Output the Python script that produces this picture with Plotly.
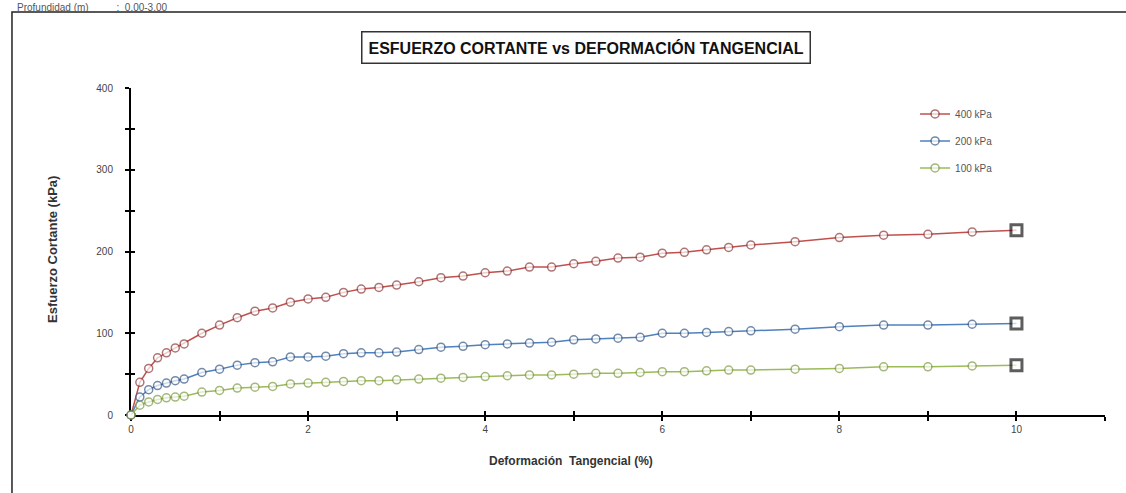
import plotly.graph_objects as go

# Shear strain (%) at each reading
deformacion = [0, 0.1, 0.2, 0.3, 0.4, 0.5, 0.6, 0.8, 1.0, 1.2, 1.4, 1.6, 1.8, 2.0,
               2.2, 2.4, 2.6, 2.8, 3.0, 3.25, 3.5, 3.75, 4.0, 4.25, 4.5, 4.75,
               5.0, 5.25, 5.5, 5.75, 6.0, 6.25, 6.5, 6.75, 7.0, 7.5, 8.0, 8.5,
               9.0, 9.5, 10.0]

# Shear stress (kPa) for each normal load
esfuerzo_400 = [0, 40, 57, 70, 76, 82, 87, 100, 110, 119, 127, 131, 138, 142,
                144, 150, 154, 156, 159, 163, 168, 170, 174, 176, 181, 181,
                185, 188, 192, 193, 198, 199, 202, 205, 208, 212, 217, 220,
                221, 224, 226]
esfuerzo_200 = [0, 22, 31, 36, 39, 42, 44, 52, 56, 61, 64, 65, 71, 71,
                72, 75, 76, 76, 77, 80, 83, 84, 86, 87, 88, 89,
                92, 93, 94, 95, 100, 100, 101, 102, 103, 105, 108, 110,
                110, 111, 112]
esfuerzo_100 = [0, 12, 16, 19, 21, 22, 23, 28, 30, 33, 34, 35, 38, 39,
                40, 41, 42, 42, 43, 44, 45, 46, 47, 48, 49, 49,
                50, 51, 51, 52, 53, 53, 54, 55, 55, 56, 57, 59,
                59, 60, 61]

series = [
    ("400 kPa", esfuerzo_400, "#c0504d", "#8e3b3d"),
    ("200 kPa", esfuerzo_200, "#4f81bd", "#3b5a86"),
    ("100 kPa", esfuerzo_100, "#9bbb59", "#7f9c44"),
]

fig = go.Figure()
n = len(deformacion)
for i, (name, vals, col, edge) in enumerate(series):
    symbols = ["circle"] * (n - 1) + ["square"]
    sizes = [8] * (n - 1) + [11]
    edges = [edge] * (n - 1) + ["#1a1a1a"]
    widths = [1.5] * (n - 1) + [3]
    fig.add_trace(go.Scatter(
        x=deformacion, y=vals, name=name, mode="lines+markers",
        legendgroup=name,
        line=dict(color=col, width=1.5),
        marker=dict(symbol=symbols, size=sizes, color="white",
                    line=dict(color=edges, width=widths)),
        cliponaxis=False,
    ))

axis_font = dict(family="Liberation Sans Narrow, Arial", size=10, color="#444")

fig.update_layout(
    width=1126, height=493,
    margin=dict(l=131, r=21, t=88, b=78),
    plot_bgcolor="white", paper_bgcolor="white",
    showlegend=True,
    legend=dict(x=0.805, y=0.965, xanchor="left", yanchor="top",
                font=dict(family="Liberation Sans Narrow, Arial", size=10, color="#555"),
                tracegroupgap=8, itemwidth=30, bgcolor="rgba(0,0,0,0)"),
    xaxis=dict(range=[0, 11], tickvals=[0, 2, 4, 6, 8, 10], showgrid=False,
               zeroline=False, showline=True, linecolor="black", linewidth=2,
               ticks="outside", ticklen=4, tickwidth=2, tickcolor="black",
               minor=dict(dtick=1, tick0=0, ticks="outside", ticklen=4,
                          tickwidth=2, tickcolor="black"),
               tickfont=axis_font, layer="below traces"),
    yaxis=dict(range=[0, 400], tickvals=[0, 100, 200, 300, 400], showgrid=False,
               zeroline=False, showline=True, linecolor="black", linewidth=2,
               ticks="outside", ticklen=4, tickwidth=2, tickcolor="black",
               minor=dict(dtick=50, tick0=0, ticks="outside", ticklen=4,
                          tickwidth=2, tickcolor="black"),
               tickfont=axis_font, ticklabelstandoff=10, layer="below traces"),
    # second copy of each axis draws the inner half of the crossing ticks
    xaxis2=dict(overlaying="x", matches="x", range=[0, 11], showgrid=False,
                zeroline=False, showticklabels=False, side="bottom",
                tickvals=list(range(0, 12)), ticks="inside", ticklen=4,
                tickwidth=2, tickcolor="black", anchor="y",
                layer="below traces"),
    yaxis2=dict(overlaying="y", matches="y", range=[0, 400], showgrid=False,
                zeroline=False, showticklabels=False, side="left",
                tickvals=list(range(0, 401, 50)), ticks="inside", ticklen=4,
                tickwidth=2, tickcolor="black", anchor="x",
                layer="below traces"),
)

# invisible trace that puts the overlay axes on the page
fig.add_trace(go.Scatter(x=[0], y=[0], xaxis="x2", yaxis="y2", mode="markers",
                         marker=dict(opacity=0), showlegend=False,
                         hoverinfo="skip"))

# outer frame of the sheet
fig.add_shape(type="rect", xref="paper", yref="paper",
              x0=-0.1222, x1=1.03, y0=-0.3, y1=1.2324,
              line=dict(color="#222", width=1.5), layer="below")

fig.add_annotation(
    text="<b>ESFUERZO CORTANTE vs DEFORMACIÓN TANGENCIAL</b>",
    xref="paper", yref="paper", x=(586 - 131) / 974, y=(415 - 47) / 327,
    xanchor="center", yanchor="middle", showarrow=False,
    font=dict(family="Liberation Sans Narrow, Arial", size=16, color="#111"),
    bordercolor="#333", borderwidth=1.5, borderpad=6, bgcolor="white",
)
fig.add_annotation(
    text="<b>Esfuerzo Cortante (kPa)</b>", textangle=-90,
    xref="paper", yref="paper", x=(52 - 131) / 974, y=(415 - 250) / 327,
    xanchor="center", yanchor="middle", showarrow=False,
    font=dict(family="Liberation Sans Narrow, Arial", size=13, color="#333"),
)
fig.add_annotation(
    text="<b>Deformación  Tangencial (%)</b>",
    xref="paper", yref="paper", x=(571 - 131) / 974, y=(415 - 461) / 327,
    xanchor="center", yanchor="middle", showarrow=False,
    font=dict(family="Liberation Sans Narrow, Arial", size=12, color="#333"),
)
fig.add_annotation(
    text="Profundidad (m)          :  0.00-3.00",
    xref="paper", yref="paper", x=(15 - 131) / 974, y=(415 - 0) / 327,
    xanchor="left", yanchor="top", showarrow=False,
    font=dict(family="Liberation Sans Narrow, Arial", size=10, color="#555"),
)

fig.write_html("out.html")
